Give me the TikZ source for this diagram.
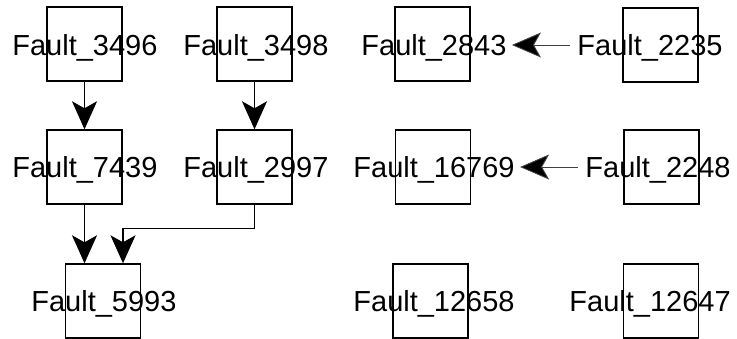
\documentclass[tikz,border=0pt]{standalone}
\usepackage{fontspec}
\setmainfont{Liberation Sans}
\usetikzlibrary{arrows.meta}
\tikzset{
    every node/.style={
        font=\fontsize{14.5}{17}\selectfont
    },
    faultbox/.style={
        shape=rectangle,
        draw,
        line width=0.7pt,
        minimum width=37.5pt,
        minimum height=37pt,
        inner sep=0pt
    },
    faultname/.style={
        inner sep=0pt,
        anchor=base west
    }
}

\begin{document}
\begin{tikzpicture}[
		x=0.5pt, y=-0.5pt,
		down/.style={line width=0.9pt, -{Stealth[length=14pt, width=12.5pt, inset=3.5pt]}},
		elbow/.style={line width=0.55pt, -{Stealth[length=14pt, width=12.5pt, inset=3.5pt]}},
		side/.style={line width=0.45pt, draw=black!75, -{Stealth[length=14.5pt, width=12.5pt, inset=3.5pt, fill=black]}}
		]
		\useasboundingbox (0,0) rectangle (737,338);
		
		\node (b3496) at (84.5, 44) [faultbox] {};
		\node (b3498) at (254.5, 44) [faultbox] {};
		\node (b7439) at (84.5, 167) [faultbox] {};
		\node (b2997) at (254.5, 167) [faultbox] {};
		\node (b5993) at (103, 301) [faultbox] {};
		\node (b2843) at (432.5, 44) [faultbox] {};
		\node (b2235) at (660.5, 45) [faultbox] {};
		\node (b16769) at (433, 167) [faultbox] {};
		\node (b2248) at (661.5, 167) [faultbox] {};
		\node (b12658) at (430.5, 301) [faultbox] {};
		\node (b12647) at (661, 301) [faultbox] {};
		
		\node (t3496) at (12, 55.5) [faultname] {Fault\_3496};
		\node (t3498) at (183, 55.5) [faultname] {Fault\_3498};
		\node (t7439) at (12, 177.5) [faultname] {Fault\_7439};
		\node (t2997) at (183, 177.5) [faultname] {Fault\_2997};
		\node (t5993) at (31, 311.5) [faultname] {Fault\_5993};
		\node (t2843) at (361, 55.5) [faultname] {Fault\_2843};
		\node (t2235) at (577, 55.5) [faultname] {Fault\_2235};
		\node (t16769) at (353, 177.5) [faultname] {Fault\_16769};
		\node (t2248) at (585, 177.5) [faultname] {Fault\_2248};
		\node (t12658) at (353, 311.5) [faultname] {Fault\_12658};
		\node (t12647) at (569, 311.5) [faultname] {Fault\_12647};
		
		\draw [down] (b3496) -- (b7439);
		\draw [down] (b3498) -- (b2997);
		\draw [down] (b7439.south) -- (b7439.south |- b5993.north);
		\draw [elbow] (b2997.south) -- ++(0,24) -| ([xshift=10pt]b5993.north);
		\draw [side, shorten <=3.5pt, shorten >=2.5pt] (t2235.west |- b2235.center) -- (t2843.east |- b2235.center);
		\draw [side, shorten <=3.5pt, shorten >=2.5pt] (t2248.west |- b2248.center) -- (t16769.east |- b2248.center);
	\end{tikzpicture}
\end{document}
